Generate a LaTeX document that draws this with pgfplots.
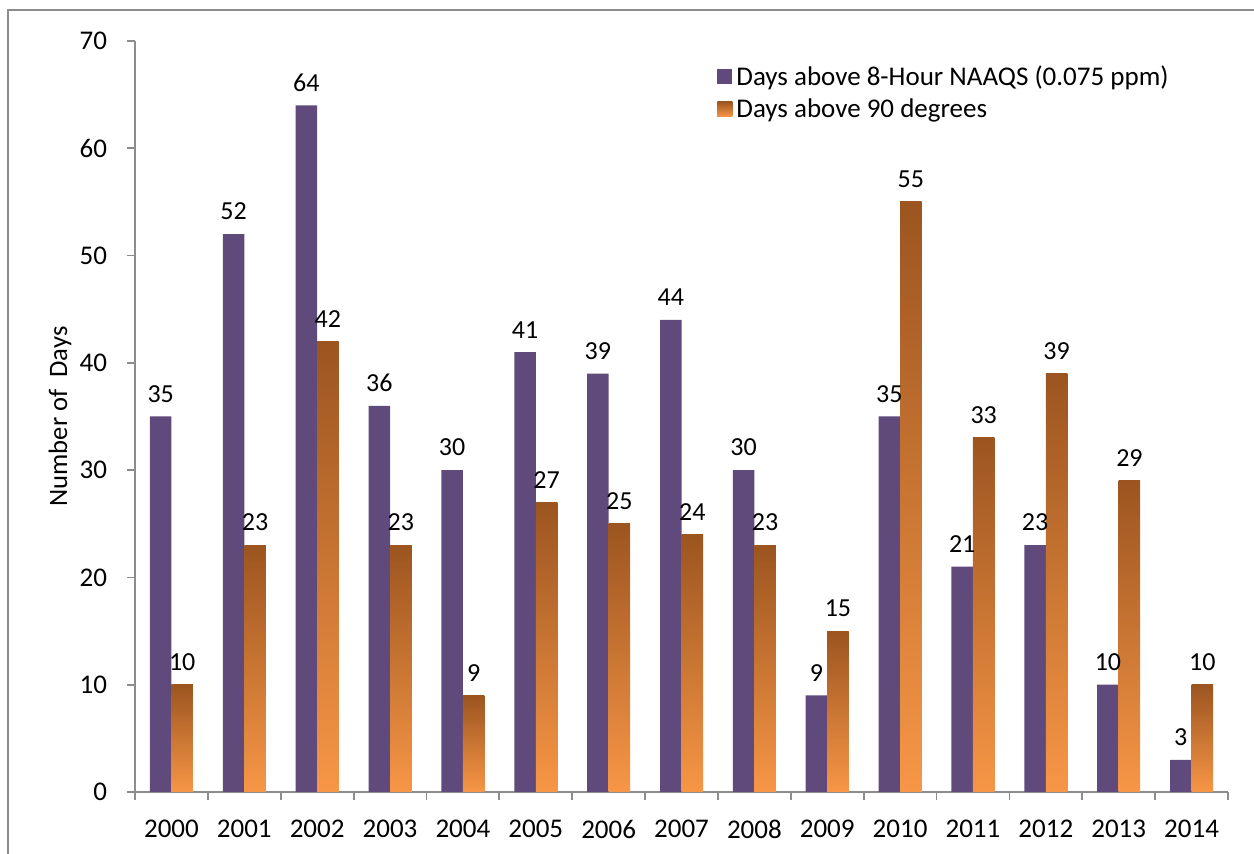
\documentclass[border=0pt]{standalone}
\usepackage{pgfplots}
\pgfplotsset{compat=1.18}
\usepackage{fontspec}
\setmainfont{Carlito}
\definecolor{purp}{HTML}{5F4A7B}
\definecolor{otop}{HTML}{9C5520}
\definecolor{obot}{HTML}{F79646}
\definecolor{axgray}{HTML}{8C8C8C}
\begin{document}
\begin{tikzpicture}
\useasboundingbox (0,0) rectangle (627pt,427pt);
\draw[axgray, line width=0.9pt] (4pt,-5pt) -- (4pt,422pt) -- (640pt,422pt);
\begin{axis}[at={(67.5pt,31pt)}, anchor=south west, scale only axis,
  width=546.5pt, height=375.5pt,
  ybar, bar width=10.75pt,
  pbar/.style={fill=purp, draw=none, bar shift=-5.375pt},
  obar/.style={fill=obot, draw=none, top color=otop, bottom color=obot, bar shift=5.375pt},
  xmin=-0.5, xmax=14.5, ymin=0, ymax=70,
  xtick={0,...,14},
  xticklabels={2000,2001,2002,2003,2004,2005,2006,2007,2008,2009,2010,2011,2012,2013,2014},
  major x tick style={draw=none},
  minor xtick={-0.5,0.5,...,14.5},
  ytick={0,10,...,70},
  axis x line*=bottom, axis y line*=left,
  axis line style={axgray, line width=0.9pt, -},
  tick style={axgray, line width=0.9pt},
  tick align=outside, major tick length=4pt, minor tick length=4pt,
  /pgf/number format/assume math mode=true,
  ticklabel style={font=\fontsize{13.5}{15}\selectfont, text=black},
  yticklabel style={xshift=-6.5pt},
  xticklabel style={yshift=-6.5pt},
  ylabel={Number of\ \ Days},
  ylabel style={at={(axis description cs:-0.0686,0.5)}, anchor=center, font=\fontsize{13.3}{15}\selectfont},
  nodes near coords,
  every node near coord/.append style={font=\fontsize{13}{15}\selectfont, text=black, yshift=3.5pt},
  legend style={at={(0.527,0.978)}, anchor=north west, draw=none, fill=none,
    font=\fontsize{13.5}{16}\selectfont, row sep=1pt},
  legend cell align=left,
  legend image code/.code={\path[#1, draw=none] (0pt,-3.5pt) rectangle (7.5pt,4pt);},
]
\addplot[pbar] coordinates {
(0,35) (1,52) (2,64) (3,36) (4,30) (5,41) (6,39) (7,44) (8,30) (9,9) (10,35) (11,21) (12,23) (13,10) (14,3)};
\addplot[obar] coordinates {(0,10)};
\addplot[obar, forget plot] coordinates {(1,23)};
\addplot[obar, forget plot] coordinates {(2,42)};
\addplot[obar, forget plot] coordinates {(3,23)};
\addplot[obar, forget plot] coordinates {(4,9)};
\addplot[obar, forget plot] coordinates {(5,27)};
\addplot[obar, forget plot] coordinates {(6,25)};
\addplot[obar, forget plot] coordinates {(7,24)};
\addplot[obar, forget plot] coordinates {(8,23)};
\addplot[obar, forget plot] coordinates {(9,15)};
\addplot[obar, forget plot] coordinates {(10,55)};
\addplot[obar, forget plot] coordinates {(11,33)};
\addplot[obar, forget plot] coordinates {(12,39)};
\addplot[obar, forget plot] coordinates {(13,29)};
\addplot[obar, forget plot] coordinates {(14,10)};
\legend{Days above 8-Hour NAAQS (0.075 ppm), Days above 90 degrees}
\end{axis}
\end{tikzpicture}
\end{document}
